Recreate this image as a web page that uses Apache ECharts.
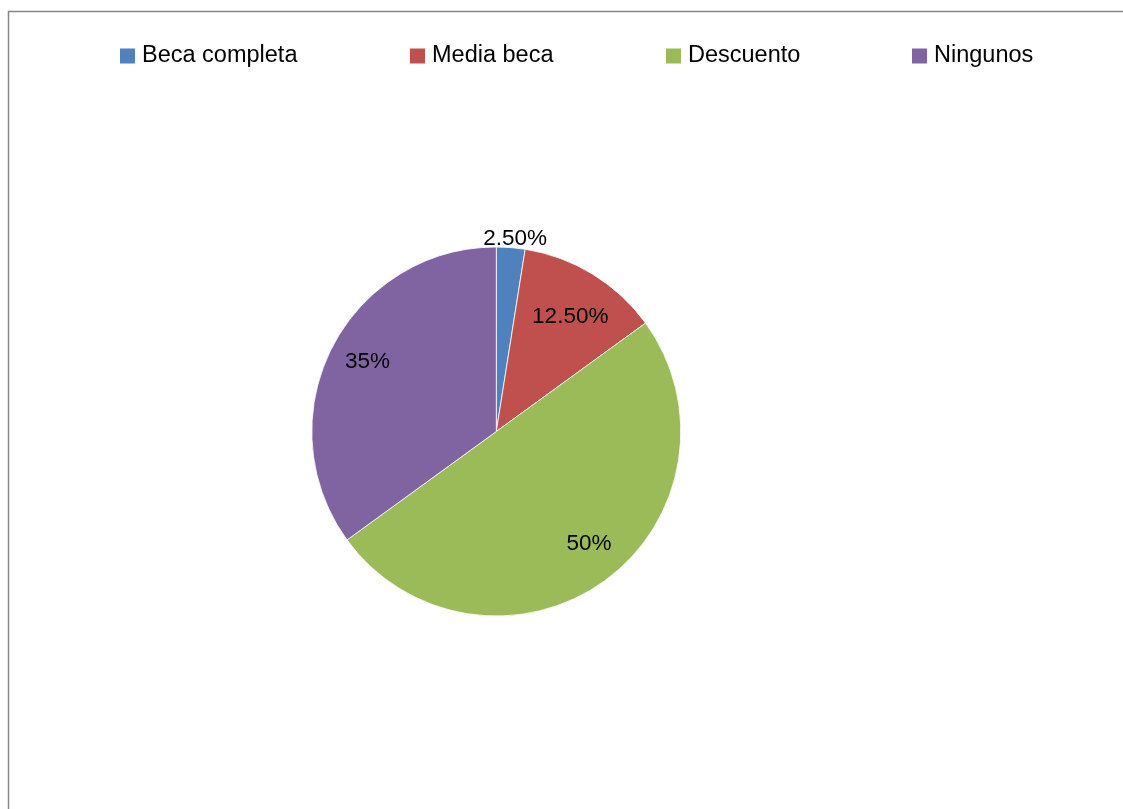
<!DOCTYPE html>
<html>
<head>
<meta charset="utf-8">
<style>
  html, body { margin: 0; padding: 0; background: #fff; }
  #chart { width: 1123px; height: 809px; }
</style>
<script src="https://cdn.jsdelivr.net/npm/echarts@6/dist/echarts.min.js"></script>
</head>
<body>
<div id="chart"></div>
<script>
// Tipo de apoyo económico
const categories = ['Beca completa', 'Media beca', 'Descuento', 'Ningunos'];
const values = [2.5, 12.5, 50, 35];
const valueLabels = ['2.50%', '12.50%', '50%', '35%'];
const colors = ['#4F81BD', '#C0504D', '#9BBB59', '#8064A2'];

const FONT = '"Liberation Sans", Arial, sans-serif';
const CX = 496.3, CY = 431.5, R = 184.5;

// label placement: radial fraction and angular nudge (degrees) per slice
const labelRadius = [1.05, 0.74, 0.79, 0.795];
const labelNudge = [1.1, 1.3, -3.5, 1.5];

const total = values.reduce((a, b) => a + b, 0);
const midAngles = [];
let acc = 0;
values.forEach(v => {
  midAngles.push((acc + v / 2) / total * 360);
  acc += v;
});

const legendLeft = [120, 410, 666, 912];
const legends = categories.map((name, i) => ({
  data: [name],
  left: legendLeft[i],
  top: 44,
  padding: 0,
  orient: 'horizontal',
  itemWidth: 15,
  itemHeight: 15,
  icon: 'rect',
  selectedMode: false,
  itemStyle: { borderWidth: 0 },
  textStyle: { fontFamily: FONT, fontSize: 23.5, color: '#000', padding: [0, 0, 0, 2] }
}));

const chart = echarts.init(document.getElementById('chart'), null, { renderer: 'canvas' });
chart.setOption({
  animation: false,
  color: colors,
  legend: legends,
  graphic: [{
    type: 'polyline',
    shape: { points: [[8.5, 809], [8.5, 11.5], [1123, 11.5]] },
    style: { stroke: '#878787', lineWidth: 1.5, fill: null },
    silent: true
  }],
  series: [{
    type: 'pie',
    center: [CX, CY],
    radius: [0, R],
    startAngle: 90,
    clockwise: true,
    avoidLabelOverlap: false,
    itemStyle: { borderColor: '#ffffff', borderWidth: 0.8 },
    label: {
      show: true,
      position: 'inside',
      fontFamily: FONT,
      fontSize: 22.5,
      color: '#000',
      formatter: p => valueLabels[p.dataIndex]
    },
    labelLine: { show: false },
    labelLayout: p => {
      const i = p.dataIndex;
      const a = (midAngles[i] + labelNudge[i]) * Math.PI / 180;
      const r = R * labelRadius[i];
      return {
        x: CX + r * Math.sin(a),
        y: CY - r * Math.cos(a),
        align: 'center',
        verticalAlign: 'middle'
      };
    },
    emphasis: { disabled: true },
    data: categories.map((name, i) => ({ name, value: values[i] }))
  }]
});
</script>
</body>
</html>
